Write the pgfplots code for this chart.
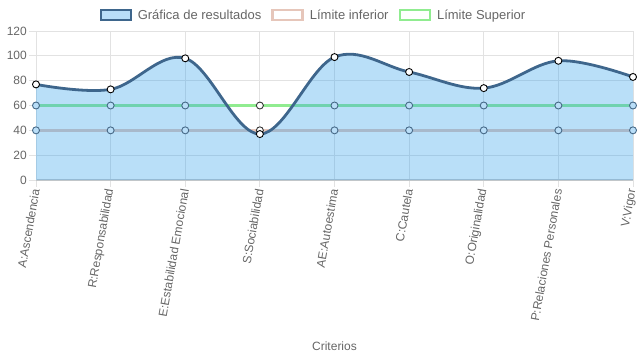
\documentclass[border=0pt]{standalone}
\usepackage{pgfplots}
\pgfplotsset{compat=1.18}
\usepackage{fontspec}
\setmainfont{Liberation Sans}
\definecolor{fillblue}{RGB}{54,162,235}
\definecolor{lineblue}{RGB}{62,102,140}
\definecolor{tanc}{RGB}{230,198,186}
\definecolor{greenc}{RGB}{144,236,144}
\definecolor{gridc}{RGB}{226,226,226}
\definecolor{zeroc}{RGB}{200,200,200}
\definecolor{textc}{RGB}{102,102,102}
\definecolor{covfill}{RGB}{185,222,248}
\definecolor{covdraw}{RGB}{70,105,135}
\begin{document}
\begin{tikzpicture}[x=1bp,y=1bp]
\useasboundingbox (0,0) rectangle (637,-359);
\begin{axis}[
  at={(36bp,-180bp)}, anchor=south west,
  scale only axis, width=597bp, height=149bp,
  clip=false,
  xmin=0, xmax=8, ymin=0, ymax=120,
  xtick={0,...,8}, ytick={0,20,...,120},
  xticklabels={A:Ascendencia,R:Responsabilidad,E:Estabilidad Emocional,S:Sociabilidad,AE:Autoestima,C:Cautela,O:Originalidad,P:Relaciones Personales,V:Vigor},
  /pgf/number format/assume math mode=true,
  ticklabel style={font=\fontsize{12bp}{14bp}\selectfont, text=textc},
  x tick label style={rotate=80, anchor=east, inner sep=2bp},
  y tick label style={inner sep=2bp},
  grid=major, major grid style={draw=gridc, line width=0.8bp},
  axis x line*=bottom, axis y line*=left,
  x axis line style={draw=zeroc, line width=1.2bp},
  y axis line style={draw=gridc, line width=0.8bp},
  tick align=outside, major tick length=7bp,
  tick style={draw=gridc, line width=0.8bp},
  xlabel={Criterios},
  xlabel style={font=\fontsize{12bp}{14bp}\selectfont, text=textc, at={(axis description cs:0.5,0)}, anchor=center, yshift=-166bp},
  legend columns=3,
  legend style={draw=none, fill=none, font=\fontsize{13bp}{15bp}\selectfont, text=textc,
     at={(axis description cs:0.5,1)}, anchor=center, yshift=16bp, xshift=-21bp,
     /tikz/every odd column/.append style={column sep=4bp},
     /tikz/every even column/.append style={column sep=8bp}},
  legend image code/.code={\draw[#1] (0bp,-5bp) rectangle (30bp,5bp);},
]
\addlegendimage{fill=fillblue!35!white, draw=lineblue, line width=2bp}
\addlegendentry{Gráfica de resultados}
\addlegendimage{fill=white, draw=tanc, line width=2.5bp}
\addlegendentry{Límite inferior}
\addlegendimage{fill=white, draw=greenc, line width=2.5bp}
\addlegendentry{Límite Superior}

% limit lines
\addplot[forget plot, tanc, line width=2.8bp]
  coordinates {(0,40)(1,40)(2,40)(3,40)(4,40)(5,40)(6,40)(7,40)(8,40)};
\addplot[forget plot, greenc, line width=2.8bp]
  coordinates {(0,60)(1,60)(2,60)(3,60)(4,60)(5,60)(6,60)(7,60)(8,60)};
% limit markers seen through the fill
\addplot[forget plot, only marks, mark=*, mark size=3.5bp,
  mark options={fill=covfill, draw=covdraw, line width=0.9bp}]
  coordinates {(0,40)(1,40)(2,40)(4,40)(5,40)(6,40)(7,40)(8,40)
               (0,60)(1,60)(2,60)(4,60)(5,60)(6,60)(7,60)(8,60)};
% limit markers above the curve
\addplot[forget plot, only marks, mark=*, mark size=3.5bp,
  mark options={fill=white, draw=black!80, line width=0.9bp}]
  coordinates {(3,40)(3,60)};
\addplot[forget plot, fill=fillblue, fill opacity=0.35, draw=none, smooth, tension=0.6]
  coordinates {(0,77)(1,73)(2,98)(3,37)(4,99)(5,87)(6,74)(7,96)(8,83)} \closedcycle;
\addplot[forget plot, lineblue, line width=2.8bp, smooth, tension=0.6, mark=*, mark size=3.5bp,
  mark options={solid, fill=white, draw=black, line width=0.9bp}]
  coordinates {(0,77)(1,73)(2,98)(3,37)(4,99)(5,87)(6,74)(7,96)(8,83)};
\end{axis}
\end{tikzpicture}
\end{document}
